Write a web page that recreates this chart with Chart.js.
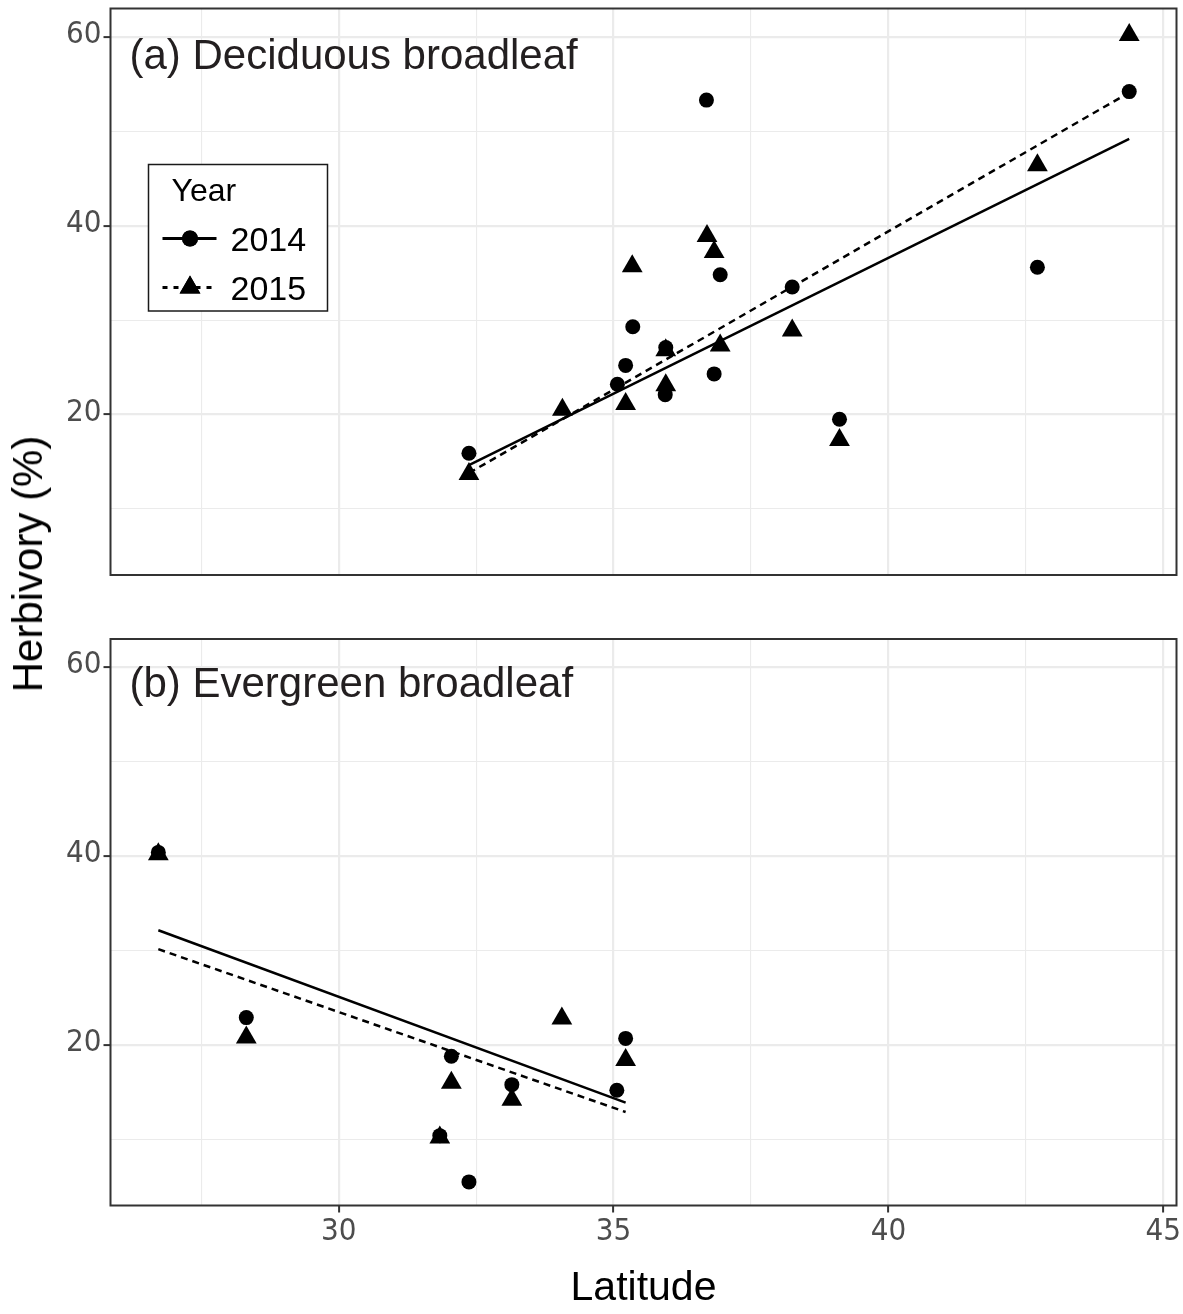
<!DOCTYPE html>
<html>
<head>
<meta charset="utf-8">
<script src="https://cdn.jsdelivr.net/npm/chart.js@4.4.1/dist/chart.umd.min.js"></script>
<style>
  html, body { margin: 0; padding: 0; background: #fff; }
  #wrap { position: relative; width: 1183px; height: 1314px; overflow: hidden; background: #fff; }
  .panel { position: absolute; left: 0; width: 1183px; }
  #ytitle {
    position: absolute; left: 28px; top: 564px;
    transform: translate(-50%, -50%) rotate(-90deg);
    font: 42px "Liberation Sans", Arial, sans-serif; line-height: 1;
    white-space: nowrap; color: #000;
  }
</style>
</head>
<body>
<div id="wrap">
  <div class="panel" style="top:0;height:600px"><canvas id="chartA" width="1183" height="600"></canvas></div>
  <div class="panel" style="top:600px;height:714px"><canvas id="chartB" width="1183" height="714"></canvas></div>
  <div id="ytitle">Herbivory (%)</div>
</div>
<script>
// axis ticks
const xMajor = [30, 35, 40, 45];
const xMinor = [27.5, 32.5, 37.5, 42.5];
const yMajor = [20, 40, 60];
const yMinor = [10, 30, 50];
const xMin = 25.85, xMax = 45.24;
const yMin = 3.0, yMax = 63.0;

// (a) Deciduous broadleaf
const decidLat2014 = [32.37, 35.07, 35.22, 35.35, 35.95, 35.94, 36.69, 36.83, 36.94, 38.25, 39.11, 42.71, 44.38];
const decidHerb2014 = [15.9, 23.2, 25.2, 29.3, 27.1, 22.1, 53.3, 24.3, 34.8, 33.5, 19.5, 35.6, 54.2];
const decidLat2015 = [32.37, 34.07, 35.22, 35.34, 35.95, 35.95, 36.70, 36.83, 36.94, 38.25, 39.11, 42.71, 44.38];
const decidHerb2015 = [13.7, 20.5, 21.1, 35.7, 26.8, 23.1, 38.9, 37.2, 27.3, 28.9, 17.3, 46.4, 60.2];
const decidFitLat = [32.37, 44.38];
const decidFit2014 = [14.65, 49.2];
const decidFit2015 = [13.8, 54.1];

// (b) Evergreen broadleaf
const everLat2014 = [26.72, 28.32, 31.84, 32.05, 32.37, 33.15, 35.06, 35.22];
const everHerb2014 = [40.4, 22.9, 10.4, 18.8, 5.5, 15.8, 15.2, 20.7];
const everLat2015 = [26.72, 28.32, 31.84, 32.05, 33.15, 34.06, 35.22];
const everHerb2015 = [40.2, 20.8, 10.2, 16.0, 14.2, 22.8, 18.4];
const everFitLat = [26.72, 35.22];
const everFit2014 = [32.15, 13.9];
const everFit2015 = [30.15, 12.9];

const years = ['2014', '2015'];
const legendTitle = 'Year';

const arial = '"Liberation Sans", Arial, sans-serif';
const narrow = '"Liberation Sans Narrow", "Arial Narrow", "DejaVu Sans Condensed", sans-serif';

const pts = (xs, ys) => xs.map((x, i) => ({ x, y: ys[i] }));

// ggplot-like panel border
const panelBorder = {
  id: 'panelBorder',
  afterDraw(chart) {
    const { ctx, chartArea: a } = chart;
    ctx.save();
    ctx.strokeStyle = '#333333';
    ctx.lineWidth = 2;
    ctx.strokeRect(a.left, a.top, a.right - a.left, a.bottom - a.top);
    ctx.restore();
  }
};

// panel tag "(a) ..." inside the plot
const panelLabel = {
  id: 'panelLabel',
  afterDraw(chart, args, opts) {
    const { ctx, chartArea: a } = chart;
    ctx.save();
    ctx.font = '42px ' + arial;
    ctx.fillStyle = '#231F20';
    ctx.textBaseline = 'alphabetic';
    ctx.fillText(opts.text, a.left + 19, a.top + opts.baseline);
    ctx.restore();
  }
};

// boxed legend with line + marker keys
const yearLegend = {
  id: 'yearLegend',
  afterDraw(chart, args, opts) {
    if (!opts.show) return;
    const { ctx, chartArea: a } = chart;
    const bx = a.left + 38, by = a.top + 156, bw = 179, bh = 146.5;
    ctx.save();
    ctx.fillStyle = '#fff';
    ctx.fillRect(bx, by, bw, bh);
    ctx.strokeStyle = '#1a1a1a';
    ctx.lineWidth = 1.5;
    ctx.strokeRect(bx, by, bw, bh);

    ctx.fillStyle = '#000';
    ctx.textBaseline = 'alphabetic';
    ctx.font = '32px ' + arial;
    ctx.fillText(legendTitle, bx + 23, by + 36);

    const styles = [
      { dash: [], point: 'circle', r: 8 },
      { dash: [5, 6], point: 'triangle', r: 12 }
    ];
    years.forEach((yr, i) => {
      const cy = by + 74 + i * 49;
      const st = styles[i];
      ctx.save();
      ctx.strokeStyle = '#000';
      ctx.lineWidth = 3;
      ctx.setLineDash(st.dash);
      ctx.beginPath();
      ctx.moveTo(bx + 14, cy);
      ctx.lineTo(bx + 68, cy);
      ctx.stroke();
      ctx.restore();
      ctx.fillStyle = '#000';
      Chart.helpers.drawPoint(ctx, { pointStyle: st.point, radius: st.r, rotation: 0, borderWidth: 0 }, bx + 41.5, cy);
      ctx.fill();
      ctx.font = '34px ' + arial;
      ctx.fillStyle = '#000';
      ctx.fillText(yr, bx + 82, cy + 12);
    });
    ctx.restore();
  }
};

function makeDatasets(lat14, herb14, lat15, herb15, fitLat, fit14, fit15) {
  return [
    { label: years[0], data: pts(lat14, herb14), pointStyle: 'circle', pointRadius: 7.5,
      backgroundColor: '#000', borderWidth: 0, showLine: false },
    { label: years[1], data: pts(lat15, herb15), pointStyle: 'triangle', pointRadius: 12,
      backgroundColor: '#000', borderWidth: 0, showLine: false },
    { label: years[0] + ' fit', data: pts(fitLat, fit14), showLine: true, pointRadius: 0,
      borderColor: '#000', borderWidth: 2.5, fill: false },
    { label: years[1] + ' fit', data: pts(fitLat, fit15), showLine: true, pointRadius: 0,
      borderColor: '#000', borderWidth: 2.5, borderDash: [7, 5], fill: false }
  ];
}

const isOn = (list, c) => c.tick && list.includes(c.tick.value);

function makeOptions(showX, label, labelBase, showLegend, padding) {
  return {
    responsive: false,
    animation: false,
    events: [],
    layout: { padding, autoPadding: false },
    plugins: {
      legend: { display: false },
      tooltip: { enabled: false },
      panelLabel: { text: label, baseline: labelBase },
      yearLegend: { show: showLegend }
    },
    scales: {
      x: {
        type: 'linear', min: xMin, max: xMax,
        afterBuildTicks: s => { s.ticks = [...xMinor, ...xMajor].sort((p, q) => p - q).map(v => ({ value: v })); },
        afterFit: s => { s.paddingLeft = 0; s.paddingRight = 0; s.height = showX ? 108.5 : 0; },
        border: { display: false },
        grid: {
          color: '#EBEBEB',
          lineWidth: c => isOn(xMajor, c) ? 2.2 : 1.1,
          drawTicks: showX, tickLength: 7, tickWidth: 2,
          tickColor: c => isOn(xMajor, c) ? '#333333' : 'rgba(0,0,0,0)'
        },
        ticks: {
          display: showX, padding: 1, autoSkip: false, maxRotation: 0,
          font: { family: narrow, size: 31 }, color: '#4D4D4D',
          callback: v => xMajor.includes(v) ? String(v) : ''
        },
        title: {
          display: showX, text: 'Latitude', color: '#000',
          font: { family: arial, size: 41, lineHeight: 1.2 }, padding: { top: 0, bottom: 1 }
        }
      },
      y: {
        type: 'linear', min: yMin, max: yMax,
        afterBuildTicks: s => { s.ticks = [...yMinor, ...yMajor].sort((p, q) => p - q).map(v => ({ value: v })); },
        afterFit: s => { s.width = 110.5; s.paddingTop = 0; s.paddingBottom = 0; },
        border: { display: false },
        grid: {
          color: '#EBEBEB',
          lineWidth: c => isOn(yMajor, c) ? 2.2 : 1.1,
          drawTicks: true, tickLength: 7, tickWidth: 2,
          tickColor: c => isOn(yMajor, c) ? '#333333' : 'rgba(0,0,0,0)'
        },
        ticks: {
          padding: 2, autoSkip: false, labelOffset: -2,
          font: { family: narrow, size: 31 }, color: '#4D4D4D',
          callback: v => yMajor.includes(v) ? String(v) : ''
        }
      }
    }
  };
}

new Chart(document.getElementById('chartA'), {
  type: 'scatter',
  data: { datasets: makeDatasets(decidLat2014, decidHerb2014, decidLat2015, decidHerb2015, decidFitLat, decidFit2014, decidFit2015) },
  options: makeOptions(false, '(a) Deciduous broadleaf', 60, true, { top: 8.5, right: 6.5, bottom: 25, left: 0 }),
  plugins: [panelBorder, panelLabel, yearLegend]
});

new Chart(document.getElementById('chartB'), {
  type: 'scatter',
  data: { datasets: makeDatasets(everLat2014, everHerb2014, everLat2015, everHerb2015, everFitLat, everFit2014, everFit2015) },
  options: makeOptions(true, '(b) Evergreen broadleaf', 58, false, { top: 39, right: 6.5, bottom: 0, left: 0 }),
  plugins: [panelBorder, panelLabel, yearLegend]
});
</script>
</body>
</html>
